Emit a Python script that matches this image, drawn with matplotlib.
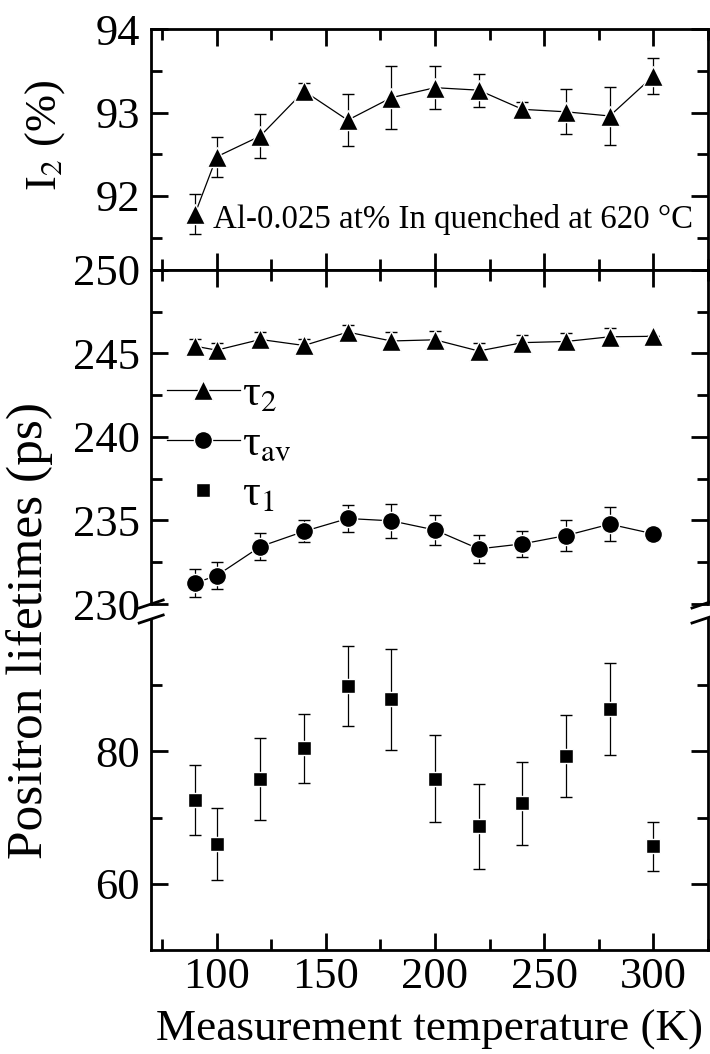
import matplotlib
matplotlib.use("Agg")
import matplotlib.pyplot as plt
from matplotlib.lines import Line2D
from matplotlib.ticker import MultipleLocator, FixedLocator

plt.rcParams['font.family'] = ['Liberation Serif', 'DejaVu Serif']
plt.rcParams['mathtext.fontset'] = 'stix'

# ---- data ----
temps = [90, 100, 120, 140, 160, 180, 200, 220, 240, 260, 280, 300]

I2 = [91.78, 92.47, 92.72, 93.26, 92.91, 93.18, 93.30, 93.27, 93.04, 93.01, 92.96, 93.44]
I2_err = [0.24, 0.24, 0.26, 0.10, 0.31, 0.38, 0.26, 0.20, 0.09, 0.27, 0.35, 0.22]

tau2 = [245.44, 245.20, 245.84, 245.48, 246.28, 245.75, 245.82, 245.15, 245.65, 245.72, 246.00, 246.03]
tau2_err = [0.44, 0.43, 0.44, 0.40, 0.45, 0.55, 0.50, 0.45, 0.43, 0.48, 0.54, 0.0]

tauav = [231.25, 231.70, 233.44, 234.35, 235.12, 234.98, 234.43, 233.30, 233.60, 234.10, 234.78, 234.20]
tauav_err = [0.82, 0.82, 0.83, 0.65, 0.82, 1.00, 0.87, 0.82, 0.78, 0.90, 1.00, 0.0]

tau1 = [72.6, 66.0, 75.8, 80.5, 89.9, 87.85, 75.9, 68.7, 72.15, 79.3, 86.4, 65.7]
tau1_err = [5.3, 5.5, 6.2, 5.2, 6.05, 7.6, 6.6, 6.4, 6.3, 6.25, 7.0, 3.7]

xlabel = "Measurement temperature (K)"
ylabel_top = "I$_2$ (%)"
ylabel_main = "Positron lifetimes (ps)"
note = "Al-0.025 at% In quenched at 620 °C"
labels = ["τ$_2$", "τ$_{\\rm av}$", "τ$_1$"]

W, H = 710, 1054
fig = plt.figure(figsize=(W / 100, H / 100), dpi=100)

def frac(x0, y0, x1, y1):
    return [x0 / W, 1 - y1 / H, (x1 - x0) / W, (y1 - y0) / H]

ax_top = fig.add_axes(frac(151.2, 29.4, 708, 270))
ax_mid = fig.add_axes(frac(151.2, 270, 708, 604))
ax_bot = fig.add_axes(frac(151.2, 619, 708, 950))

FS = 32
lw_sp = 2.0
for ax in (ax_top, ax_mid, ax_bot):
    ax.set_xlim(70, 325)
    ax.xaxis.set_major_locator(MultipleLocator(50))
    ax.xaxis.set_minor_locator(MultipleLocator(25))
    for s in ax.spines.values():
        s.set_linewidth(lw_sp)
    ax.tick_params(which='both', direction='in', width=lw_sp, labelsize=FS,
                   top=True, right=True, pad=8)
    ax.tick_params(which='major', length=12)
    ax.tick_params(which='minor', length=8)

ax_top.tick_params(labelbottom=False)
ax_mid.tick_params(labelbottom=False, bottom=False, which='both')
ax_mid.spines['bottom'].set_visible(False)
ax_bot.spines['top'].set_visible(False)
ax_bot.tick_params(top=False, which='both')
ax_bot.tick_params(axis='x', pad=5)

mk_kw = dict(color='black', markeredgecolor='white', markeredgewidth=1.0,
             elinewidth=0.9, ecolor='black', capsize=4.3, capthick=0.9)

ax_top.errorbar(temps, I2, yerr=I2_err, marker='^', ms=15, lw=0.9, **mk_kw)
ax_top.set_ylim(91.11, 94)
ax_top.yaxis.set_major_locator(FixedLocator([92, 93, 94]))
ax_top.yaxis.set_minor_locator(FixedLocator([91.5, 92.5, 93.5]))
ax_top.text(0.111, 0.175, note, transform=ax_top.transAxes, fontsize=23.7,
            ha='left', va='baseline')
ax_top.set_ylabel(ylabel_top, fontsize=FS)
ax_top.yaxis.set_label_coords(-0.152, 0.56)

h2 = ax_mid.errorbar(temps, tau2, yerr=tau2_err, marker='^', ms=15, lw=0.9, **mk_kw)
hav = ax_mid.errorbar(temps, tauav, yerr=tauav_err, marker='o', ms=13, lw=0.9, **mk_kw)
ax_mid.set_ylim(230, 250)
ax_mid.yaxis.set_major_locator(MultipleLocator(5))
ax_mid.yaxis.set_minor_locator(MultipleLocator(2.5))

h1 = ax_bot.errorbar(temps, tau1, yerr=tau1_err, marker='s', ms=10.5,
                     linestyle='none', **mk_kw)
ax_bot.set_ylim(50, 100)
ax_bot.yaxis.set_major_locator(FixedLocator([60, 80]))
ax_bot.yaxis.set_minor_locator(FixedLocator([70, 90]))
ax_bot.set_xlabel(xlabel, fontsize=32.5, labelpad=9)

leg = ax_mid.legend([h2.lines[0], hav.lines[0], h1.lines[0]], labels,
                    loc='upper left', bbox_to_anchor=(0.028, 0.688),
                    frameon=False, fontsize=32, handlelength=1.64,
                    handletextpad=0.05, labelspacing=0.22, borderpad=0,
                    borderaxespad=0, numpoints=1)

fig.text(0.042, 0.402, ylabel_main, rotation=90, fontsize=37,
         ha='center', va='center')

# axis break marks
def slash(xc, yc):
    fig.add_artist(Line2D([(xc - 12) / W, (xc + 12) / W],
                          [1 - (yc + 4) / H, 1 - (yc - 4) / H],
                          color='black', lw=2.0, transform=fig.transFigure))

for xc in (151.2, 704):
    slash(xc, 604)
    slash(xc, 619)

fig.savefig("out.png", dpi=100)
